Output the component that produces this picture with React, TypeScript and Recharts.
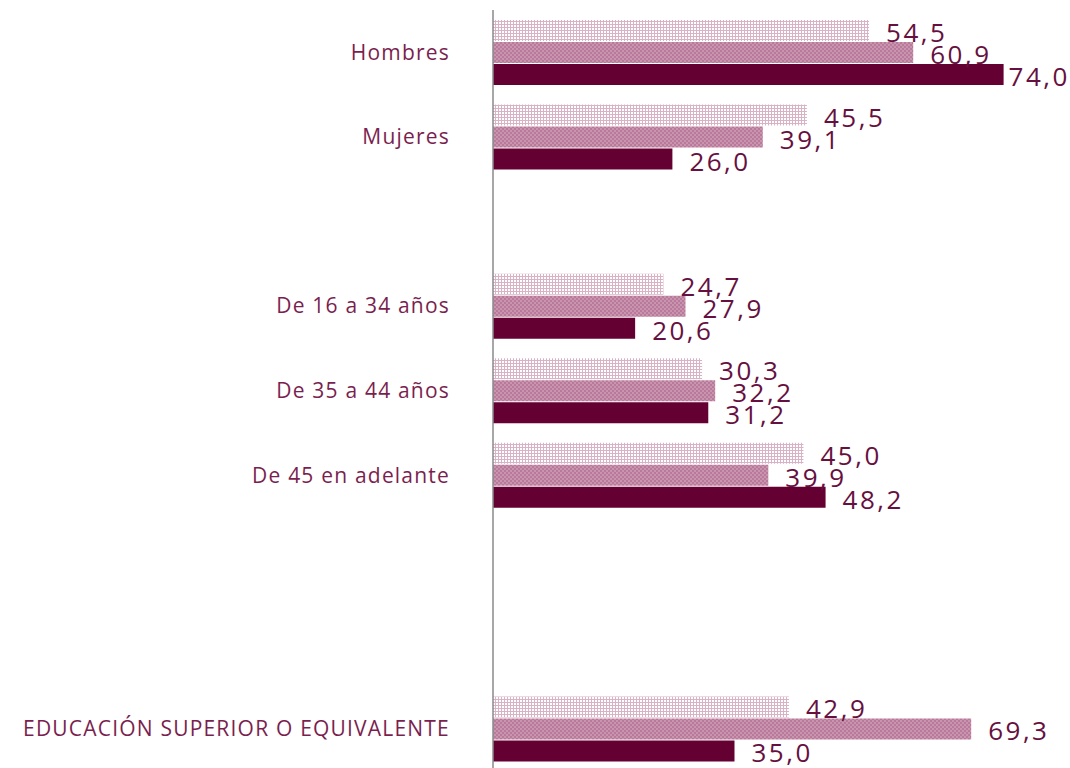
import React from "react";
import { BarChart, Bar, XAxis, YAxis, LabelList } from "recharts";

const categories = [
  "Hombres",
  "Mujeres",
  "",
  "De 16 a 34 años",
  "De 35 a 44 años",
  "De 45 en adelante",
  "",
  "",
  "EDUCACIÓN SUPERIOR O EQUIVALENTE",
];
const seriesLight = [54.5, 45.5, null, 24.7, 30.3, 45.0, null, null, 42.9];
const seriesMid = [60.9, 39.1, null, 27.9, 32.2, 39.9, null, null, 69.3];
const seriesDark = [74.0, 26.0, null, 20.6, 31.2, 48.2, null, null, 35.0];

const data = categories.map((c, i) => ({
  key: i,
  light: seriesLight[i],
  mid: seriesMid[i],
  dark: seriesDark[i],
}));

const fmt = (v: any) =>
  v === null || v === undefined || v === "" ? "" : Number(v).toFixed(1).replace(".", ",");

const makeLabel = (tightIndex: number | null) => (props: any) => {
  const { x, y, width, height, value, index } = props;
  if (value === null || value === undefined) return null;
  const off = tightIndex !== null && index === tightIndex ? 5 : 17;
  return (
    <text
      x={Number(x) + Number(width) + off}
      y={Number(y) + Number(height) / 2 + 1.5}
      dominantBaseline="central"
      textAnchor="start"
      fill="#66103f"
      fontSize={26}
      fontFamily="'Open Sans', sans-serif"
      letterSpacing={2.5}
    >
      {fmt(value)}
    </text>
  );
};

export default function App() {
  return (
    <div
      style={{
        position: "absolute",
        left: 0,
        top: 0,
        width: 1070,
        height: 768,
        overflow: "hidden",
        background: "#fff",
      }}
    >
      <svg width={0} height={0} style={{ position: "absolute" }}>
        <defs>
          <pattern id="patLight" width={3} height={3} patternUnits="userSpaceOnUse">
            <rect x={0} y={0} width={3} height={3} fill="#ffffff" />
            <rect x={0} y={0} width={3} height={1} fill="#d9b3c5" />
            <rect x={0} y={0} width={1} height={3} fill="#d9b3c5" />
          </pattern>
          <pattern id="patMid" width={4} height={4} patternUnits="userSpaceOnUse">
            <rect x={0} y={0} width={4} height={4} fill="#b9799a" />
            <rect x={0} y={0} width={2} height={2} fill="#c995ae" />
            <rect x={2} y={2} width={2} height={2} fill="#c995ae" />
          </pattern>
        </defs>
      </svg>
      <BarChart
        width={1070}
        height={775}
        data={data}
        layout="vertical"
        margin={{ top: 10, right: 25, bottom: 4, left: 0 }}
        barSize={21}
        barGap={1}
        style={{ overflow: "visible" }}
      >
        <XAxis type="number" domain={[0, 80]} hide />
        <YAxis
          type="category"
          dataKey="key"
          width={493}
          tickFormatter={(v: any) => categories[Number(v)]}
          tickLine={false}
          tickSize={0}
          tickMargin={43}
          axisLine={{ stroke: "#8a8a8a", strokeWidth: 1.5 }}
          tick={{
            fill: "#7a1f4f",
            fontSize: 21,
            fontFamily: "'Open Sans', sans-serif",
            letterSpacing: 1.2,
          }}
          interval={0}
        />
        <Bar dataKey="light" fill="url(#patLight)" isAnimationActive={false}>
          <LabelList dataKey="light" content={makeLabel(null)} />
        </Bar>
        <Bar dataKey="mid" fill="url(#patMid)" isAnimationActive={false}>
          <LabelList dataKey="mid" content={makeLabel(null)} />
        </Bar>
        <Bar dataKey="dark" fill="#650033" isAnimationActive={false}>
          <LabelList dataKey="dark" content={makeLabel(0)} />
        </Bar>
      </BarChart>
    </div>
  );
}
